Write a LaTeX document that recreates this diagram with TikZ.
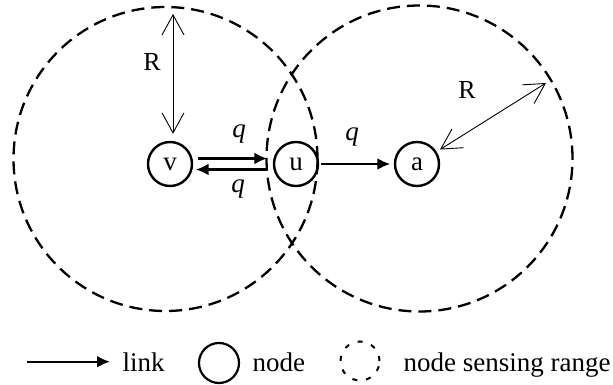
\documentclass[tikz,border=0pt]{standalone}
\usepackage{fontspec}
\setmainfont{Liberation Serif}
\usetikzlibrary{arrows.meta}

\begin{document}
\begin{tikzpicture}[x=1pt,y=-1pt,
  sensingrange/.style={draw, line width=2.3pt, dash pattern=on 13pt off 7pt},
  netnode/.style={circle, draw, line width=2.4pt, minimum size=44pt, inner sep=0pt,
    font=\fontsize{27}{30}\selectfont},
  link/.style={line width=2.8pt, -{Latex[length=13pt,width=12pt]}},
  radiusarrow/.style={line width=0.9pt,
    {Straight Barb[length=20pt,width=22pt]}-{Straight Barb[length=20pt,width=22pt]}},
  qlabel/.style={anchor=base, font=\fontsize{27}{30}\selectfont\itshape},
  rlabel/.style={font=\fontsize{26}{30}\selectfont},
  legendtext/.style={anchor=base west, font=\fontsize{27}{31}\selectfont},
]
\useasboundingbox (0,0) rectangle (613,385);

% sensing ranges
\coordinate (cv) at (165.5,159);
\coordinate (ca) at (419.5,158.5);
\draw[sensingrange] (cv) circle[radius=152pt];
\draw[sensingrange] (ca) circle[radius=153pt];

% sensor nodes
\node[netnode] (v) at (170,164) {v};
\node[netnode] (u) at (296,164) {u};
\node[netnode] (a) at (417,164) {a};

% links
\draw[link, shorten <=5pt, shorten >=5.5pt] ([yshift=5.5pt]v.east) -- ([yshift=5.5pt]u.west);
\draw[link, shorten <=5.5pt, shorten >=2.5pt] ([yshift=-5.5pt]u.west) -- ([yshift=-5.5pt]v.east);
\draw[link, shorten <=1.5pt, shorten >=3.5pt] (u) -- (a);
\node[qlabel] (q1) at (239,138) {q};
\node[qlabel] (q2) at (238,192) {q};
\node[qlabel] (q3) at (352,141) {q};

% sensing radius
\coordinate (rtop) at (173,14);
\coordinate (rright) at (546,83);
\draw[radiusarrow, shorten >=7pt] (rtop) -- (rtop |- v.north);
\draw[radiusarrow, shorten <=4pt] (a) -- (rright);
\node[rlabel] (r1) at (152,62) {R};
\node[rlabel] (r2) at (467,90) {R};

% legend
\coordinate (l1) at (26.7,361.7);
\coordinate (l2) at (110,361.7);
\draw[link, line width=2.4pt] (l1) -- (l2);
\node[legendtext] (t1) at (119,371) {link};
\node[circle, draw, line width=2.2pt, minimum size=40pt, inner sep=0pt] (n1) at (219,363) {};
\node[legendtext] (t2) at (249,371) {node};
\node[circle, draw, line width=2pt, dash pattern=on 5pt off 9pt, minimum size=39pt, inner sep=0pt] (n2) at (360,361) {};
\node[legendtext] (t3) at (400,371) {node sensing range};
\end{tikzpicture}
\end{document}
